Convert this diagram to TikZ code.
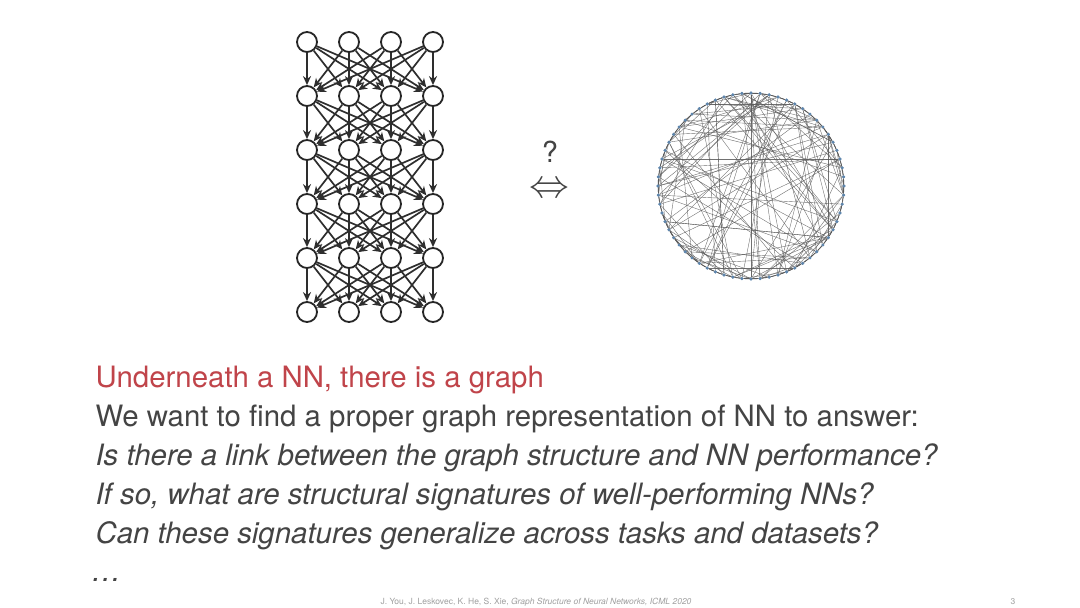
\documentclass[tikz,border=0pt]{standalone}
\usepackage{fontspec}
\setmainfont{TeX Gyre Heros}
\usetikzlibrary{arrows.meta}
\definecolor{txt}{HTML}{444444}
\definecolor{redt}{HTML}{C0444A}
\definecolor{dotc}{HTML}{5F86AD}
\definecolor{foot}{HTML}{A0A0A0}
\tikzset{
  nn/.style={circle, draw=black!85, line width=1.8pt, minimum size=20pt, inner sep=0pt, fill=white},
  nnedge/.style={draw=black!82, line width=1.7pt, -{Stealth[length=9pt,width=8pt]}},
  gdot/.style={circle, fill=dotc, minimum size=3.2pt, inner sep=0pt},
  ring/.style={draw=black!70, line width=0.6pt},
  chord/.style={draw=black!65, line width=0.4pt, opacity=0.85},
  body/.style={anchor=base west, text=txt, font=\fontsize{29.4}{34}\selectfont},
  ibody/.style={body, font=\fontsize{29.4}{34}\selectfont\itshape},
}
\begin{document}
\begin{tikzpicture}[x=1pt,y=-1pt]
\path[use as bounding box, fill=white] (0,0) rectangle (1080,608);

% ---- neural network ----
\foreach \r in {0,...,5}
  \foreach \c in {0,...,3}
    \node[nn] (n\r\c) at (307+42*\c, 42+54*\r) {};
\foreach \r [evaluate=\r as \s using int(\r+1)] in {0,...,4}
  \foreach \a in {0,...,3}
    \foreach \b in {0,...,3}
      \draw[nnedge] (n\r\a) -- (n\s\b);

% ---- question + equivalence ----
\node[anchor=base, text=txt, inner sep=0pt, font=\fontsize{29}{30}\selectfont] (q) at (550,162) {?};
\node[text=txt, inner sep=0pt, anchor=base] (eq) at (549,197)
  {\smash{\scalebox{1.6}{\fontsize{24}{24}\selectfont$\Leftrightarrow$}}};

% ---- relational graph ----
\foreach \i in {1,...,64}
  \node[gdot] (c\i) at ({751+93*cos(5.625*\i)},{186+93*sin(5.625*\i)}) {};
\foreach \i in {1,...,64}{
  \pgfmathtruncatemacro{\j}{mod(\i,64)+1}
  \pgfmathtruncatemacro{\k}{mod(\i+1,64)+1}
  \draw[ring] (c\i) -- (c\j);
  \draw[chord] (c\i) -- (c\k);
}
\pgfmathsetseed{913}
\foreach \e in {1,...,130}{
  \pgfmathrandominteger{\a}{1}{64}
  \pgfmathrandominteger{\b}{1}{64}
  \draw[chord] (c\a) -- (c\b);
}
\foreach \i in {1,...,64}
  \node[gdot] at (c\i) {};

% ---- text ----
\node[body, text=redt] (t1) at (92,387) {Underneath a NN, there is a graph};
\node[body] (t2) at (92,426) {We want to find a proper graph representation of NN to answer:};
\node[ibody] (t3) at (92,465) {Is there a link between the graph structure and NN performance?};
\node[ibody] (t4) at (92,504) {If so, what are structural signatures of well-performing NNs?};
\node[ibody] (t5) at (92,543) {Can these signatures generalize across tasks and datasets?};
\node[ibody] (t6) at (88,581) {\dots};

% ---- footer ----
\node[anchor=base, text=foot, font=\fontsize{8.5}{10}\selectfont] (ref) at (536,604)
  {J. You, J. Leskovec, K. He, S. Xie, \textit{Graph Structure of Neural Networks, ICML 2020}};
\node[anchor=base, text=foot, font=\fontsize{8.5}{10}\selectfont] (pg) at (1013,604) {3};
\end{tikzpicture}
\end{document}
